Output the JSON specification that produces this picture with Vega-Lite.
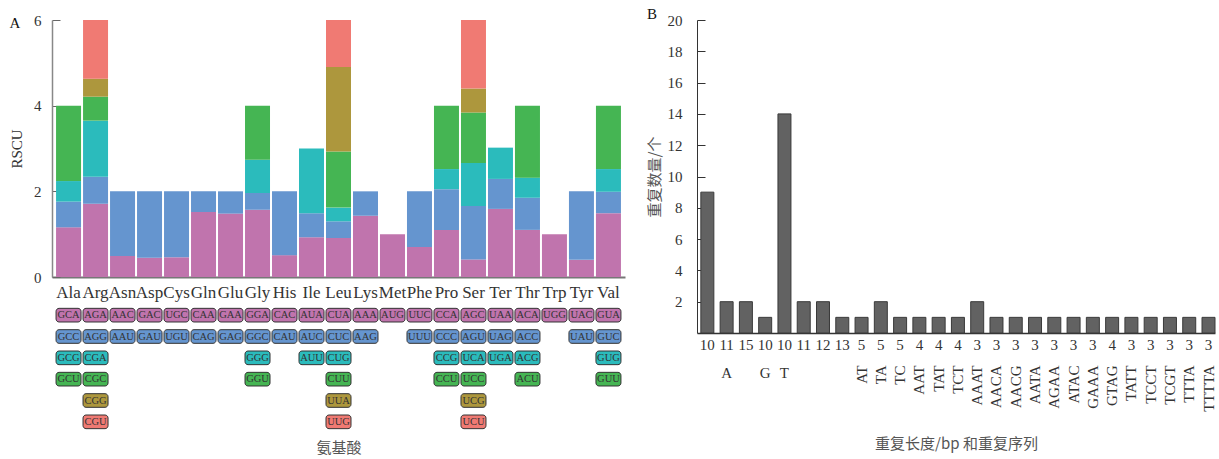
{
  "$schema": "https://vega.github.io/schema/vega-lite/v6.json",
  "padding": {"left": 9, "top": 6, "right": 0, "bottom": 0},
  "background": "white",
  "config": {
    "view": {"stroke": null},
    "font": "Liberation Serif",
    "axis": {"labelFont": "Liberation Serif", "labelFontSize": 15, "labelColor": "#333", "titleFont": "Liberation Serif", "titleFontSize": 15, "titleFontWeight": "normal", "titleColor": "#333", "grid": false, "labelOverlap": false},
    "title": {"font": "Liberation Serif", "fontSize": 15, "fontWeight": "normal", "color": "#111", "anchor": "start", "frame": "bounds"}
  },
  "datasets": {
    "codons": [
      {"aa": "Ala", "codon": "GCA", "rank": 1, "rscu": 1.16},
      {"aa": "Ala", "codon": "GCC", "rank": 2, "rscu": 0.60},
      {"aa": "Ala", "codon": "GCG", "rank": 3, "rscu": 0.48},
      {"aa": "Ala", "codon": "GCU", "rank": 4, "rscu": 1.76},
      {"aa": "Arg", "codon": "AGA", "rank": 1, "rscu": 1.71},
      {"aa": "Arg", "codon": "AGG", "rank": 2, "rscu": 0.63},
      {"aa": "Arg", "codon": "CGA", "rank": 3, "rscu": 1.31},
      {"aa": "Arg", "codon": "CGC", "rank": 4, "rscu": 0.56},
      {"aa": "Arg", "codon": "CGG", "rank": 5, "rscu": 0.42},
      {"aa": "Arg", "codon": "CGU", "rank": 6, "rscu": 1.37},
      {"aa": "Asn", "codon": "AAC", "rank": 1, "rscu": 0.49},
      {"aa": "Asn", "codon": "AAU", "rank": 2, "rscu": 1.51},
      {"aa": "Asp", "codon": "GAC", "rank": 1, "rscu": 0.45},
      {"aa": "Asp", "codon": "GAU", "rank": 2, "rscu": 1.55},
      {"aa": "Cys", "codon": "UGC", "rank": 1, "rscu": 0.46},
      {"aa": "Cys", "codon": "UGU", "rank": 2, "rscu": 1.54},
      {"aa": "Gln", "codon": "CAA", "rank": 1, "rscu": 1.52},
      {"aa": "Gln", "codon": "CAG", "rank": 2, "rscu": 0.48},
      {"aa": "Glu", "codon": "GAA", "rank": 1, "rscu": 1.48},
      {"aa": "Glu", "codon": "GAG", "rank": 2, "rscu": 0.52},
      {"aa": "Gly", "codon": "GGA", "rank": 1, "rscu": 1.57},
      {"aa": "Gly", "codon": "GGC", "rank": 2, "rscu": 0.39},
      {"aa": "Gly", "codon": "GGG", "rank": 3, "rscu": 0.78},
      {"aa": "Gly", "codon": "GGU", "rank": 4, "rscu": 1.26},
      {"aa": "His", "codon": "CAC", "rank": 1, "rscu": 0.51},
      {"aa": "His", "codon": "CAU", "rank": 2, "rscu": 1.49},
      {"aa": "Ile", "codon": "AUA", "rank": 1, "rscu": 0.93},
      {"aa": "Ile", "codon": "AUC", "rank": 2, "rscu": 0.56},
      {"aa": "Ile", "codon": "AUU", "rank": 3, "rscu": 1.51},
      {"aa": "Leu", "codon": "CUA", "rank": 1, "rscu": 0.91},
      {"aa": "Leu", "codon": "CUC", "rank": 2, "rscu": 0.39},
      {"aa": "Leu", "codon": "CUG", "rank": 3, "rscu": 0.32},
      {"aa": "Leu", "codon": "CUU", "rank": 4, "rscu": 1.31},
      {"aa": "Leu", "codon": "UUA", "rank": 5, "rscu": 1.97},
      {"aa": "Leu", "codon": "UUG", "rank": 6, "rscu": 1.10},
      {"aa": "Lys", "codon": "AAA", "rank": 1, "rscu": 1.43},
      {"aa": "Lys", "codon": "AAG", "rank": 2, "rscu": 0.57},
      {"aa": "Met", "codon": "AUG", "rank": 1, "rscu": 1.00},
      {"aa": "Phe", "codon": "UUC", "rank": 1, "rscu": 0.70},
      {"aa": "Phe", "codon": "UUU", "rank": 2, "rscu": 1.30},
      {"aa": "Pro", "codon": "CCA", "rank": 1, "rscu": 1.10},
      {"aa": "Pro", "codon": "CCC", "rank": 2, "rscu": 0.95},
      {"aa": "Pro", "codon": "CCG", "rank": 3, "rscu": 0.47},
      {"aa": "Pro", "codon": "CCU", "rank": 4, "rscu": 1.48},
      {"aa": "Ser", "codon": "AGC", "rank": 1, "rscu": 0.41},
      {"aa": "Ser", "codon": "AGU", "rank": 2, "rscu": 1.25},
      {"aa": "Ser", "codon": "UCA", "rank": 3, "rscu": 1.00},
      {"aa": "Ser", "codon": "UCC", "rank": 4, "rscu": 1.18},
      {"aa": "Ser", "codon": "UCG", "rank": 5, "rscu": 0.56},
      {"aa": "Ser", "codon": "UCU", "rank": 6, "rscu": 1.60},
      {"aa": "Ter", "codon": "UAA", "rank": 1, "rscu": 1.59},
      {"aa": "Ter", "codon": "UAG", "rank": 2, "rscu": 0.70},
      {"aa": "Ter", "codon": "UGA", "rank": 3, "rscu": 0.73},
      {"aa": "Thr", "codon": "ACA", "rank": 1, "rscu": 1.10},
      {"aa": "Thr", "codon": "ACC", "rank": 2, "rscu": 0.75},
      {"aa": "Thr", "codon": "ACG", "rank": 3, "rscu": 0.47},
      {"aa": "Thr", "codon": "ACU", "rank": 4, "rscu": 1.68},
      {"aa": "Trp", "codon": "UGG", "rank": 1, "rscu": 1.00},
      {"aa": "Tyr", "codon": "UAC", "rank": 1, "rscu": 0.40},
      {"aa": "Tyr", "codon": "UAU", "rank": 2, "rscu": 1.60},
      {"aa": "Val", "codon": "GUA", "rank": 1, "rscu": 1.49},
      {"aa": "Val", "codon": "GUC", "rank": 2, "rscu": 0.50},
      {"aa": "Val", "codon": "GUG", "rank": 3, "rscu": 0.53},
      {"aa": "Val", "codon": "GUU", "rank": 4, "rscu": 1.48}
    ],
    "ssr": [
      {"id": 1, "seq": "A", "len": 10, "count": 9},
      {"id": 2, "seq": "A", "len": 11, "count": 2},
      {"id": 3, "seq": "A", "len": 15, "count": 2},
      {"id": 4, "seq": "G", "len": 10, "count": 1},
      {"id": 5, "seq": "T", "len": 10, "count": 14},
      {"id": 6, "seq": "T", "len": 11, "count": 2},
      {"id": 7, "seq": "T", "len": 12, "count": 2},
      {"id": 8, "seq": "T", "len": 13, "count": 1},
      {"id": 9, "seq": "AT", "len": 5, "count": 1},
      {"id": 10, "seq": "TA", "len": 5, "count": 2},
      {"id": 11, "seq": "TC", "len": 5, "count": 1},
      {"id": 12, "seq": "AAT", "len": 4, "count": 1},
      {"id": 13, "seq": "TAT", "len": 4, "count": 1},
      {"id": 14, "seq": "TCT", "len": 4, "count": 1},
      {"id": 15, "seq": "AAAT", "len": 3, "count": 2},
      {"id": 16, "seq": "AACA", "len": 3, "count": 1},
      {"id": 17, "seq": "AACG", "len": 3, "count": 1},
      {"id": 18, "seq": "AATA", "len": 3, "count": 1},
      {"id": 19, "seq": "AGAA", "len": 3, "count": 1},
      {"id": 20, "seq": "ATAC", "len": 3, "count": 1},
      {"id": 21, "seq": "GAAA", "len": 3, "count": 1},
      {"id": 22, "seq": "GTAG", "len": 4, "count": 1},
      {"id": 23, "seq": "TATT", "len": 3, "count": 1},
      {"id": 24, "seq": "TCCT", "len": 3, "count": 1},
      {"id": 25, "seq": "TCGT", "len": 3, "count": 1},
      {"id": 26, "seq": "TTTA", "len": 3, "count": 1},
      {"id": 27, "seq": "TTTTA", "len": 3, "count": 1}
    ],
    "mono": [
      {"id": 2, "seq": "A"},
      {"id": 4, "seq": "G"},
      {"id": 5, "seq": "T"}
    ]
  },
  "align": "none",
  "hconcat": [
    {
      "spacing": 4.5,
      "resolve": {"scale": {"y": "independent"}},
      "vconcat": [
        {
          "title": {"text": "A", "offset": -17.6},
          "width": 573,
          "height": 257,
          "data": {"name": "codons"},
          "mark": {"type": "bar"},
          "encoding": {
            "x": {"field": "aa", "type": "nominal", "scale": {"paddingInner": 0.074, "paddingOuter": 0.15},
              "axis": {"title": null, "ticks": false, "labelAngle": 0, "labelPadding": 7, "labelFontSize": 17, "domainColor": "#777", "domainWidth": 2}},
            "y": {"field": "rscu", "type": "quantitative", "stack": "zero", "scale": {"domain": [0, 6], "nice": false},
              "axis": {"title": "RSCU", "values": [0, 2, 4, 6], "tickSize": -8, "tickColor": "#666", "domainColor": "#888", "domainWidth": 1.5, "labelPadding": 19, "titlePadding": 9, "labelOverlap": false}},
            "color": {"field": "rank", "type": "ordinal", "scale": {"domain": [1, 2, 3, 4, 5, 6], "range": ["#C074AD", "#6595CF", "#2BBBBC", "#45B553", "#AD973D", "#F07A73"]}, "legend": null},
            "order": {"field": "rank", "type": "quantitative", "sort": "ascending"}
          }
        },
        {
          "width": 573,
          "height": 128,
          "data": {"name": "codons"},
          "encoding": {
            "x": {"field": "aa", "type": "nominal", "scale": {"paddingInner": 0.074, "paddingOuter": 0.15},
              "axis": {"title": "氨基酸", "labels": false, "ticks": false, "domain": false, "titleFont": "Noto Sans CJK SC", "titleFontSize": 15, "titleColor": "#555", "titlePadding": 8}},
            "y": {"field": "rank", "type": "ordinal", "scale": {"paddingInner": 0.36, "paddingOuter": 0.18}, "axis": null}
          },
          "layer": [
            {
              "mark": {"type": "rect", "cornerRadius": 3, "stroke": "#333", "strokeWidth": 1},
              "encoding": {
                "color": {"field": "rank", "type": "ordinal", "scale": {"domain": [1, 2, 3, 4, 5, 6], "range": ["#C074AD", "#6595CF", "#2BBBBC", "#45B553", "#AD973D", "#F07A73"]}, "legend": null}
              }
            },
            {
              "mark": {"type": "text", "font": "Liberation Serif", "fontSize": 10.5, "color": "#333"},
              "encoding": {"text": {"field": "codon", "type": "nominal"}}
            }
          ]
        }
      ]
    },
    {
      "spacing": 0,
      "resolve": {"scale": {"y": "independent"}},
      "vconcat": [
        {
          "title": {"text": "B", "offset": -8.8},
          "width": 518,
          "height": 313,
          "data": {"name": "ssr"},
          "mark": {"type": "bar", "color": "#626262", "stroke": "#3a3a3a", "strokeWidth": 1},
          "encoding": {
            "x": {"field": "id", "type": "ordinal", "scale": {"type": "band", "paddingInner": 0.326, "paddingOuter": 0.1, "align": 1},
              "axis": {"title": null, "labels": false, "ticks": false, "domainColor": "#333", "domainWidth": 1.5}},
            "y": {"field": "count", "type": "quantitative", "scale": {"domain": [0, 20], "nice": false},
              "axis": {"title": "重复数量/个", "values": [2, 4, 6, 8, 10, 12, 14, 16, 18, 20], "tickSize": -8, "tickColor": "#333", "domainColor": "#333", "labelPadding": 23, "labelOverlap": false, "titlePadding": 5, "titleFont": "Noto Sans CJK SC", "titleColor": "#555"}}
          }
        },
        {
          "width": 518,
          "height": 22,
          "encoding": {
            "x": {"field": "id", "type": "ordinal", "scale": {"type": "band", "paddingInner": 0.326, "paddingOuter": 0.1, "align": 1},
              "axis": {"title": "重复长度/bp 和重复序列", "labels": false, "ticks": false, "domain": false, "titleFont": "Noto Sans CJK SC", "titleFontSize": 15, "titleColor": "#555", "titlePadding": 80}}
          },
          "layer": [
            {
              "data": {"name": "ssr"},
              "mark": {"type": "text", "baseline": "middle", "fontSize": 15, "font": "Liberation Serif", "color": "#333"},
              "encoding": {"text": {"field": "len", "type": "nominal"}}
            },
            {
              "data": {"name": "ssr"},
              "transform": [{"filter": "length(datum.seq) > 1"}],
              "mark": {"type": "text", "angle": 270, "align": "right", "baseline": "middle", "dx": -20.5, "fontSize": 15, "font": "Liberation Serif", "color": "#333"},
              "encoding": {"text": {"field": "seq", "type": "nominal"}}
            },
            {
              "data": {"name": "mono"},
              "mark": {"type": "text", "baseline": "middle", "dy": 27.5, "fontSize": 15, "font": "Liberation Serif", "color": "#333"},
              "encoding": {"text": {"field": "seq", "type": "nominal"}}
            }
          ]
        }
      ]
    }
  ],
  "spacing": 22,
  "resolve": {"scale": {"x": "independent", "y": "independent", "color": "independent"}}
}
